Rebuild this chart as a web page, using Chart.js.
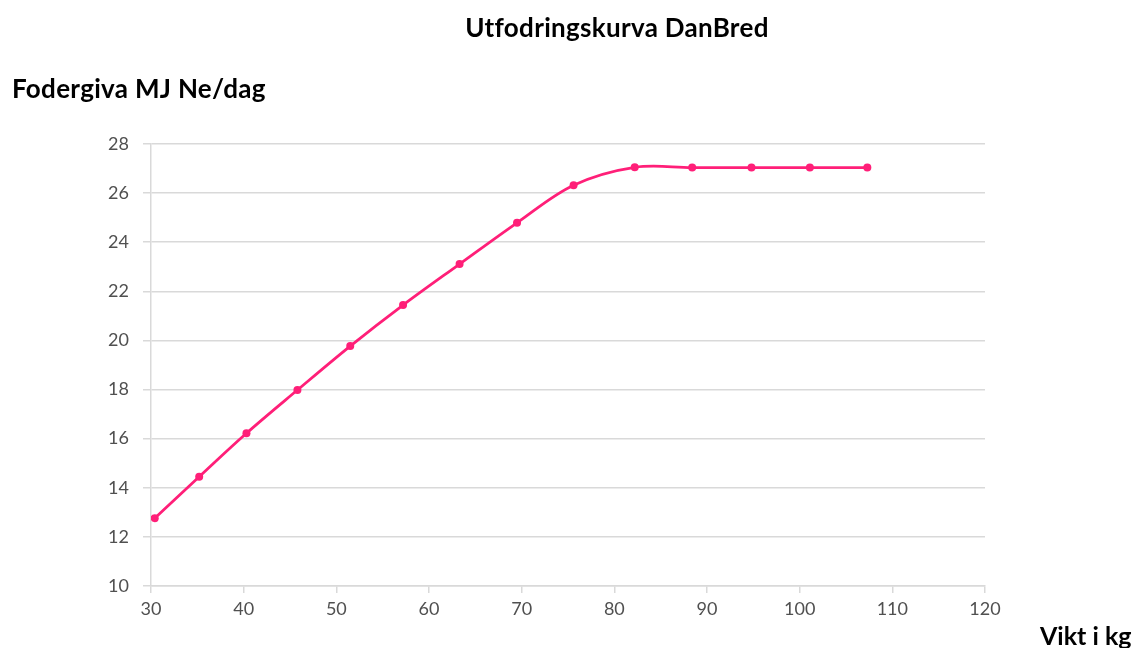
<!DOCTYPE html>
<html>
<head>
<meta charset="utf-8">
<script src="https://cdn.jsdelivr.net/npm/chart.js@4.4.0/dist/chart.umd.min.js"></script>
<style>
  html, body { margin: 0; padding: 0; background: #ffffff; }
  #wrap { position: relative; width: 1141px; height: 648px; overflow: hidden; }
  #c { position: absolute; left: 0; top: 0; }
  .lbl { position: absolute; font-family: Lato, "Open Sans", sans-serif; font-weight: bold; color: #000; white-space: nowrap; line-height: 30px; }
  #title { left: 0; width: 1234px; top: 12px; text-align: center; font-size: 26px; letter-spacing: 0.3px; }
  #ytitle { left: 12px; top: 73px; font-size: 26px; letter-spacing: 0.3px; }
  #xtitle { left: 1040px; top: 620px; font-size: 25px; }
</style>
</head>
<body>
<div id="wrap">
  <canvas id="c" width="1141" height="648"></canvas>
  <div class="lbl" id="title">Utfodringskurva DanBred</div>
  <div class="lbl" id="ytitle">Fodergiva MJ Ne/dag</div>
  <div class="lbl" id="xtitle">Vikt i kg</div>
</div>
<script>
const weights = [30.4, 35.2, 40.3, 45.8, 51.5, 57.2, 63.3, 69.5, 75.6, 82.2, 88.4, 94.8, 101.1, 107.3];
const feed    = [12.76, 14.45, 16.22, 17.98, 19.77, 21.44, 23.11, 24.79, 26.32, 27.05, 27.04, 27.04, 27.04, 27.04];
const xTicks = [30, 40, 50, 60, 70, 80, 90, 100, 110, 120];
const yTicks = [10, 12, 14, 16, 18, 20, 22, 24, 26, 28];

const points = weights.map((w, i) => ({ x: w, y: feed[i] }));
const pink = '#ff1f78';
const tickFont = { family: 'Lato, "Open Sans", sans-serif', size: 18 };

new Chart(document.getElementById('c'), {
  type: 'line',
  data: {
    datasets: [{
      data: points,
      borderColor: pink,
      backgroundColor: pink,
      borderWidth: 2.8,
      pointRadius: 4,
      pointBackgroundColor: pink,
      pointBorderColor: pink,
      pointBorderWidth: 0,
      tension: 0.35,
      fill: false
    }]
  },
  options: {
    responsive: false,
    animation: false,
    devicePixelRatio: 1,
    layout: { padding: { top: 144, right: 156, left: 0, bottom: 0 } },
    plugins: { legend: { display: false }, title: { display: false }, tooltip: { enabled: false } },
    scales: {
      x: {
        type: 'linear',
        min: 30, max: 120,
        afterBuildTicks: (s) => { s.ticks = xTicks.map(v => ({ value: v })); },
        afterFit: (s) => { s.height = 62; },
        grid: { drawOnChartArea: false, drawTicks: true, tickLength: 7, color: '#d9d9d9', lineWidth: 1.5 },
        border: { color: '#d9d9d9', width: 1.5 },
        ticks: { color: '#505050', font: tickFont, padding: 5, maxRotation: 0 }
      },
      y: {
        type: 'linear',
        min: 10, max: 28,
        afterBuildTicks: (s) => { s.ticks = yTicks.map(v => ({ value: v })); },
        afterFit: (s) => { s.width = 151; },
        grid: { drawOnChartArea: true, drawTicks: true, tickLength: 8, color: '#d9d9d9', lineWidth: 1.5 },
        border: { color: '#d9d9d9', width: 1.5 },
        ticks: { color: '#505050', font: tickFont, padding: 14 }
      }
    }
  }
});
</script>
</body>
</html>
